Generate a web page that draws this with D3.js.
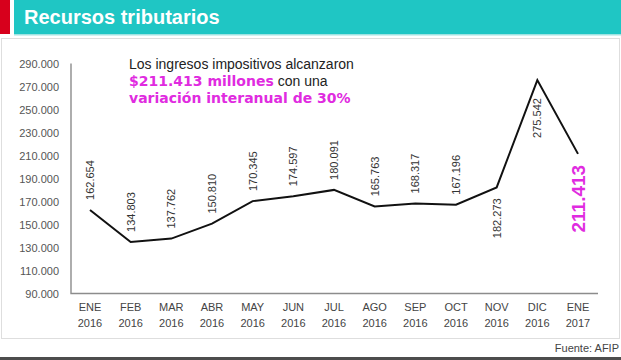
<!DOCTYPE html>
<html><head><meta charset="utf-8">
<script src="https://cdn.jsdelivr.net/npm/d3@7"></script>
<style>body{margin:0;background:#fff}svg{display:block}</style>
</head><body>
<script>
const months = ["ENE","FEB","MAR","ABR","MAY","JUN","JUL","AGO","SEP","OCT","NOV","DIC","ENE"];
const years  = ["2016","2016","2016","2016","2016","2016","2016","2016","2016","2016","2016","2016","2017"];
const values = [162654,134803,137762,150810,170345,174597,180091,165763,168317,167196,182273,275542,211413];
const yTicks = [90000,110000,130000,150000,170000,190000,210000,230000,250000,270000,290000];
const title = "Recursos tributarios";
const source = "Fuente: AFIP";
const noteLine1 = "Los ingresos impositivos alcanzaron";
const noteAmount = "$211.413 millones";
const noteMid = " con una";
const noteLine3 = "variación interanual de 30%";

const W = 621, H = 360;
const MAG = "#e02be0";
const loc = d3.formatLocale({decimal:",", thousands:".", grouping:[3], currency:["$",""]});
const fmt = loc.format(",d");

const svg = d3.select("body").append("svg").attr("width", W).attr("height", H)
  .style("font-family", "'Liberation Sans', Arial, Helvetica, sans-serif");

// header
svg.append("rect").attr("x",0).attr("y",0).attr("width",10).attr("height",34).attr("fill","#d7001c");
svg.append("rect").attr("x",14).attr("y",0).attr("width",W-14).attr("height",34).attr("fill","#1fc6c4");
svg.append("rect").attr("x",14).attr("y",34).attr("width",W-14).attr("height",1.5).attr("fill","#9fe3e2");
svg.append("text").attr("x",24).attr("y",24).attr("fill","#fff").attr("font-size",20)
  .attr("font-weight","bold").text(title);

// card
svg.append("rect").attr("x",1.5).attr("y",38.5).attr("width",618).attr("height",300)
  .attr("fill","#fff").attr("stroke","#dedede").attr("stroke-width",1);

// bottom bar + source
svg.append("rect").attr("x",0).attr("y",357).attr("width",W).attr("height",3).attr("fill","#4d4d4d");
svg.append("text").attr("x",619).attr("y",352).attr("text-anchor","end").attr("font-size",11)
  .attr("fill","#444").text(source);

// scales
const x = d3.scalePoint().domain(d3.range(values.length)).range([90, 578]);
const y = d3.scaleLinear().domain([90000, 290000]).range([293.5, 63.5]);

// y axis
const yAxis = svg.append("g").attr("transform","translate(71,0)")
  .call(d3.axisLeft(y).tickValues(yTicks).tickFormat(fmt).tickSize(0).tickPadding(12));
yAxis.select(".domain").remove();
yAxis.selectAll("text").attr("font-size",11).attr("fill","#555")
  .style("font-family","'Liberation Sans', Arial, Helvetica, sans-serif");

// axis lines
svg.append("path").attr("d", d3.line()([[71, y(290000)], [71, y(90000)], [598, y(90000)]]))
  .attr("fill","none").attr("stroke","#8c8c8c").attr("stroke-width",1.4);

// x labels
const xl = svg.append("g").selectAll("text").data(values).join("text")
  .attr("x",(d,i)=>x(i)).attr("text-anchor","middle").attr("font-size",11).attr("fill","#444");
xl.append("tspan").attr("x",(d,i)=>x(i)).attr("y",311).text((d,i)=>months[i]);
xl.append("tspan").attr("x",(d,i)=>x(i)).attr("y",326.5).text((d,i)=>years[i]);

// line
svg.append("path").datum(values)
  .attr("d", d3.line().x((d,i)=>x(i)).y(d=>y(d)))
  .attr("fill","none").attr("stroke","#111").attr("stroke-width",2).attr("stroke-linejoin","miter");

// data labels
const last = values.length - 1;
const below = new Set([10, 11, last]);
svg.append("g").selectAll("text").data(values).join("text")
  .attr("transform",(d,i)=>{
    let yy;
    if (i === 11) yy = y(d) + 18;
    else if (below.has(i)) yy = y(d) + 11;
    else yy = y(d) - 10;
    return `translate(${x(i)},${yy}) rotate(-90)`;
  })
  .attr("dy","0.35em")
  .attr("text-anchor",(d,i)=> below.has(i) ? "end" : "start")
  .attr("font-size",(d,i)=> i===last ? 19 : 11)
  .attr("font-weight",(d,i)=> i===last ? "bold" : "normal")
  .attr("fill",(d,i)=> i===last ? MAG : "#333")
  .text(d=>fmt(d));

// annotation
const note = svg.append("text").attr("x",129).attr("font-size",14).attr("fill","#222");
note.append("tspan").attr("x",129).attr("y",69).text(noteLine1);
const l2 = note.append("tspan").attr("x",129).attr("y",86);
note.append("tspan").attr("x",129).attr("y",86).attr("fill",MAG).attr("font-weight","bold")
  .style("font-family","'DejaVu Sans', sans-serif").text(noteAmount);
note.append("tspan").text(noteMid);
note.append("tspan").attr("x",129).attr("y",103).attr("fill",MAG).attr("font-weight","bold")
  .style("font-family","'DejaVu Sans', sans-serif").text(noteLine3);
</script>
</body></html>
